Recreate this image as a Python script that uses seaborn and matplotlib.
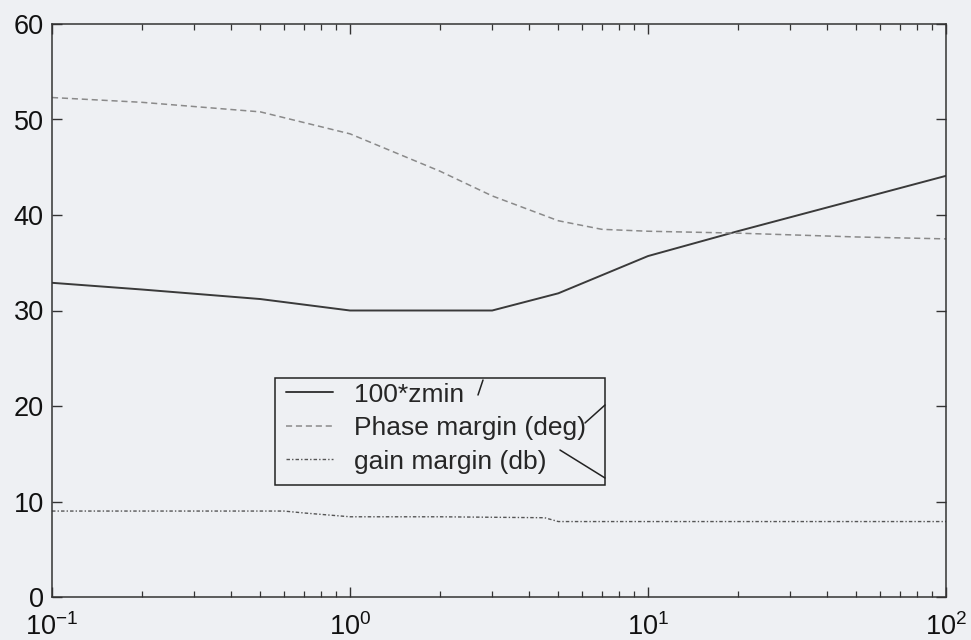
import numpy as np
import pandas as pd
import matplotlib
matplotlib.use("Agg")
import matplotlib.pyplot as plt
from matplotlib.lines import Line2D
from matplotlib.patches import Rectangle
import seaborn as sns

# ---- data ----
zmin_x = [0.1, 0.2, 0.5, 1.0, 2.0, 3.0, 5.0, 10.0, 20.0, 50.0, 100.0]
zmin_y = [32.9, 32.2, 31.2, 30.0, 30.0, 30.0, 31.8, 35.7, 38.3, 41.6, 44.1]

pm_x = [0.1, 0.2, 0.5, 1.0, 2.0, 3.0, 5.0, 7.0, 10.0, 20.0, 50.0, 100.0]
pm_y = [52.3, 51.8, 50.8, 48.5, 44.6, 42.0, 39.4, 38.5, 38.3, 38.1, 37.7, 37.5]

gm_x = [0.1, 0.3, 0.6, 0.7, 1.0, 2.0, 4.5, 5.0, 10.0, 100.0]
gm_y = [9.0, 9.0, 9.0, 8.8, 8.4, 8.4, 8.3, 7.9, 7.9, 7.9]

labels = ["100*zmin", "Phase margin (deg)", "gain margin (db)"]
yticks = [0, 10, 20, 30, 40, 50, 60]

BG = "#eef0f3"
sns.set_style("ticks")
plt.rcParams["font.family"] = ["Liberation Sans", "DejaVu Sans"]
plt.rcParams["mathtext.fontset"] = "custom"
plt.rcParams["mathtext.rm"] = "Liberation Sans"
plt.rcParams["mathtext.it"] = "Liberation Sans:italic"

fig = plt.figure(figsize=(9.71, 6.40), dpi=100, facecolor=BG)
ax = fig.add_axes([52 / 971, 43 / 640, 894 / 971, 573 / 640])
ax.set_facecolor(BG)

sns.lineplot(x=zmin_x, y=zmin_y, ax=ax, color="#3a3a3a", lw=1.4,
             linestyle="-", label=labels[0])
sns.lineplot(x=pm_x, y=pm_y, ax=ax, color="#8a8a8a", lw=1.1,
             linestyle=(0, (4, 2.5)), label=labels[1])
sns.lineplot(x=gm_x, y=gm_y, ax=ax, color="#555555", lw=1.0,
             linestyle=(0, (2.5, 1.5, 1, 1.5)), label=labels[2])

ax.set_xscale("log")
ax.set_xlim(0.1, 100)
ax.set_ylim(0, 60)
ax.set_yticks(yticks)
ax.set_yticklabels([str(v) for v in yticks])

for s in ax.spines.values():
    s.set_visible(True)
    s.set_color("#333333")
    s.set_linewidth(1.1)

ax.tick_params(axis="both", which="major", direction="in", length=7,
               width=1.0, color="#333333", top=True, right=True,
               labelsize=19.5, labelcolor="#111111")
ax.tick_params(axis="y", which="major", pad=6)
ax.tick_params(axis="x", which="major", pad=12)
ax.tick_params(axis="x", which="minor", direction="in", length=4,
               width=0.9, color="#333333", top=True, bottom=True)
ax.tick_params(axis="y", which="minor", left=False, right=False)
ax.set_xlabel("")
ax.set_ylabel("")

# legend box (frame drawn separately: the reference has extra room at bottom)
x0 = (275 - 52) / 894
y1 = (597 - 378) / 573
y0 = (597 - 485) / 573
w = (605 - 275) / 894
ax.add_patch(Rectangle((x0, y0), w, y1 - y0, transform=ax.transAxes,
                       facecolor=BG, edgecolor="#222222", lw=1.1,
                       zorder=4, clip_on=False))
ly1 = (597 - 372) / 573
leg = ax.legend(loc="upper left", bbox_to_anchor=(x0, y0, w, ly1 - y0),
                mode="expand", frameon=False,
                fontsize=19, handlelength=1.8, handletextpad=0.8,
                labelspacing=0.36, borderpad=0.4, borderaxespad=0)
leg.set_zorder(5)

# pointer strokes drawn next to the legend in the reference
for (xa, ya), (xb, yb) in [((0.4765, 0.3525), (0.4821, 0.3787)),
                           ((0.5962, 0.3037), (0.6186, 0.3351)),
                           ((0.5682, 0.2565), (0.6186, 0.2077))]:
    ax.add_line(Line2D([xa, xb], [ya, yb], transform=ax.transAxes,
                       color="#222222", lw=1.1, clip_on=False, zorder=6))

fig.savefig("out.png", dpi=100, facecolor=BG)
